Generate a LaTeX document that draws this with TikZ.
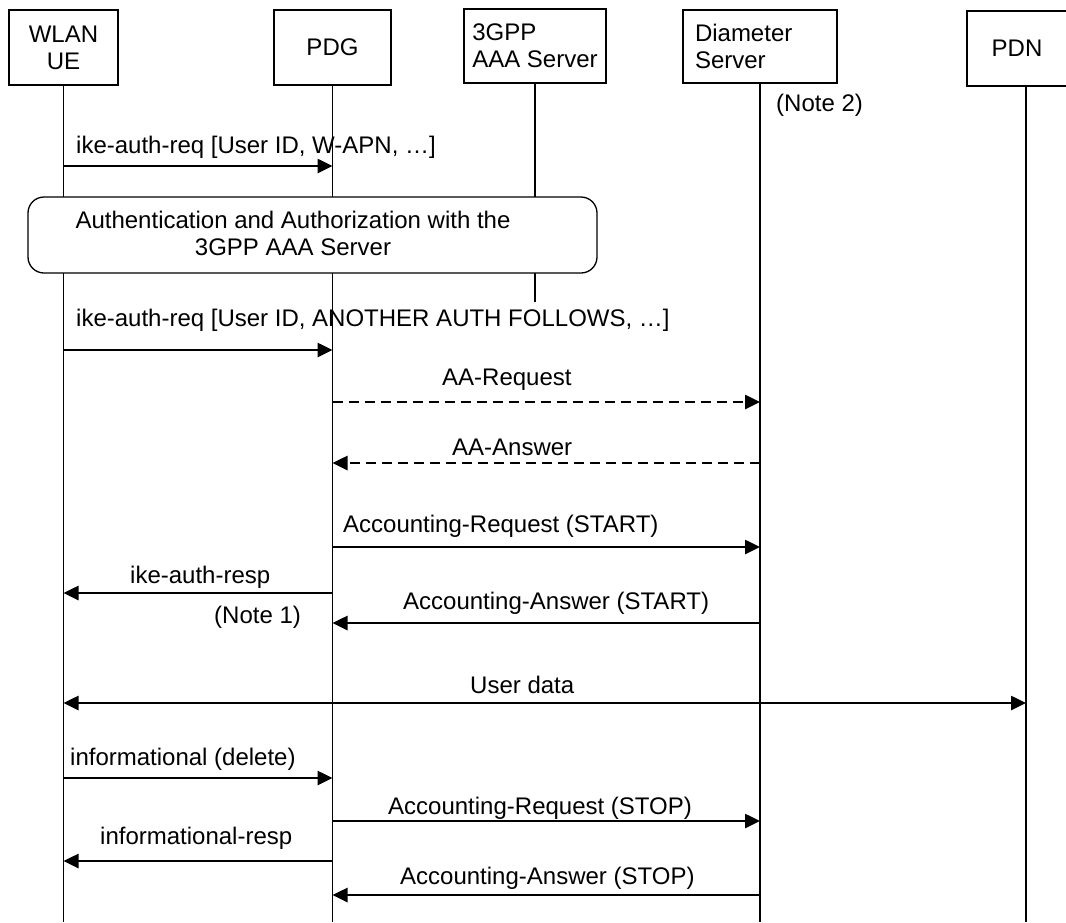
\documentclass[tikz,border=0pt]{standalone}
\usepackage{fontspec}
\setmainfont{Liberation Sans}
\usetikzlibrary{arrows.meta}

\begin{document}
\begin{tikzpicture}[x=1pt,y=-1pt,>={Triangle[length=15pt,width=14pt]},
  font=\fontsize{24}{27}\selectfont,
  entity/.style={draw,line width=1.3pt,minimum height=75pt},
  life/.style={line width=1.2pt},
  msg/.style={->,line width=2.6pt},
  diam/.style={msg,dash pattern=on 10pt off 6pt},
  lbl/.style={anchor=west,inner sep=0pt}]
 \useasboundingbox (0,0) rectangle (1066,922);
 % entities
 \node[entity,minimum width=109pt,align=center] (ue) at (63.5,47.5) {WLAN\\UE};
 \node[entity,minimum width=117pt] (pdg) at (332.5,47.5) {PDG};
 \node[entity,minimum width=142pt,minimum height=74pt,align=left] (aaa) at (535,46) {3GPP\\AAA Server};
 \node[entity,minimum width=154pt,minimum height=73pt,text width=130pt,align=left] (dia) at (760,46.5) {Diameter\\Server};
 \node[entity,minimum width=100pt] (pdn) at (1017,48.5) {PDN};
 \coordinate (pdnl) at ([xshift=9pt]pdn.south);
 % lifelines
 \draw[life] (ue.south) -- (ue.south |- 0,922);
 \draw[life] (pdg.south) -- (pdg.south |- 0,922);
 \draw[life] (aaa.south) -- (aaa.south |- 0,302);
 \draw[life] (dia.south) -- (dia.south |- 0,922);
 \draw[life] (pdnl) -- (pdnl |- 0,922);
 \node[lbl] (note2) at (776,105) {(Note 2)};
 % tunnel setup
 \node[lbl] (req1) at (76,147) {ike-auth-req [User ID, W-APN, …]};
 \draw[msg] (ue |- 0,166) -- (pdg |- 0,166);
 \node[draw,line width=1.3pt,rounded corners=16pt,fill=white,minimum width=569pt,minimum height=76pt] (auth) at (312.5,235) {};
 \node[align=center] (authtxt) at (293,233) {Authentication and Authorization with the\\3GPP AAA Server};
 \node[lbl] (req2) at (76,320) {ike-auth-req [User ID, ANOTHER AUTH FOLLOWS, …]};
 \draw[msg] (ue |- 0,350) -- (pdg |- 0,350);
 \node[lbl] (aareq) at (442,380) {AA-Request};
 \draw[diam] (pdg |- 0,402) -- (dia |- 0,402);
 \node[lbl] (aaans) at (452,447) {AA-Answer};
 \draw[diam] (dia |- 0,463) -- (pdg |- 0,463);
 \node[lbl] (acreq1) at (343,526) {Accounting-Request (START)};
 \draw[msg] (pdg |- 0,547) -- (dia |- 0,547);
 \node[lbl] (resp) at (130,577) {ike-auth-resp};
 \draw[msg] (pdg |- 0,593) -- (ue |- 0,593);
 \node[lbl] (acans1) at (403,603) {Accounting-Answer (START)};
 \draw[msg] (dia |- 0,623) -- (pdg |- 0,623);
 \node[lbl] (note1) at (214,617) {(Note 1)};
 % data
 \node[lbl] (udata) at (470,685) {User data};
 \draw[msg,<->] (ue |- 0,703) -- (pdnl |- 0,703);
 % teardown
 \node[lbl] (info) at (70,759) {informational (delete)};
 \draw[msg] (ue |- 0,778) -- (pdg |- 0,778);
 \node[lbl] (acreq2) at (388,808) {Accounting-Request (STOP)};
 \draw[msg] (pdg |- 0,821) -- (dia |- 0,821);
 \node[lbl] (inforesp) at (100,838) {informational-resp};
 \draw[msg] (pdg |- 0,861) -- (ue |- 0,861);
 \node[lbl] (acans2) at (400,878) {Accounting-Answer (STOP)};
 \draw[msg] (dia |- 0,895) -- (pdg |- 0,895);
\end{tikzpicture}
\end{document}
